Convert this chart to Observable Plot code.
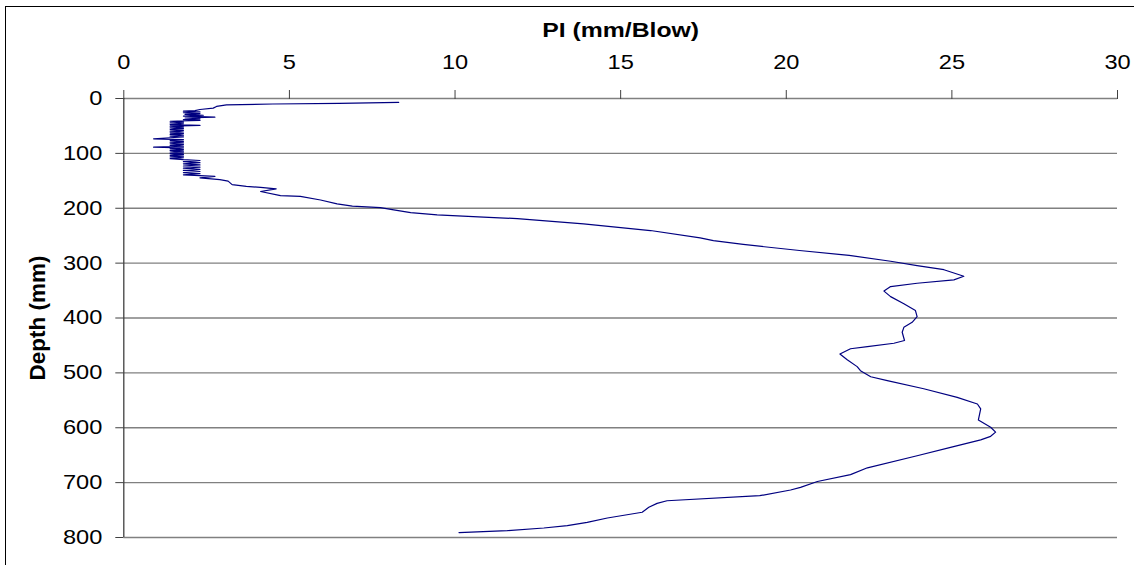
<!DOCTYPE html>
<html>
<head>
<meta charset="utf-8">
<script src="https://cdn.jsdelivr.net/npm/d3@7"></script>
<script src="https://cdn.jsdelivr.net/npm/@observablehq/plot@0.6"></script>
<style>
  html, body { margin: 0; padding: 0; background: #fff; overflow: hidden; }
  #wrap { position: relative; width: 1134px; height: 565px; }
  #border { position: absolute; left: 5px; top: 6px; width: 1400px; height: 800px;
            border-top: 1.5px solid #000; border-left: 1.5px solid #000; pointer-events: none; }
  #chart svg { display: block; }
</style>
</head>
<body>
<div id="wrap"><div id="chart"></div><div id="border"></div></div>
<script>
// Depth (mm) and penetration index PI (mm/blow)
const depth = [
  7, 9, 10, 11.5, 14.5, 17.5, 20, 22,
  23, 24.5, 26, 27.5, 29, 30.5, 32, 34, 35.5, 37, 38.5, 40, 41.5,
  43, 44.5, 46, 47.5, 49, 50.5, 52, 53.5, 55, 56.5, 58, 59.5, 61, 62.5, 64, 65.5, 67, 68.5, 70, 71.5, 73.5,
  75, 76.5, 78, 79.5, 81, 82.5, 84, 85.5, 87, 88.7, 90, 91.5, 93, 94.5, 96, 97.5, 99, 100.5, 102, 103.5, 105, 106.5, 108, 109.5,
  111.5, 113, 115, 117, 119, 121, 123, 125, 127, 129, 131, 133, 135, 137, 139, 140.5, 142, 144.5,
  148, 150.5, 157, 160, 162, 164.7, 169.5, 177, 178.5, 185, 192, 196, 199,
  203, 208, 212, 216, 219, 228.5, 240.6, 254, 259, 266, 277, 286, 296.6, 304.5, 312, 324, 330.5,
  336.7, 342.7, 351, 361, 374, 386.5, 397.5, 407.8, 417, 426, 441, 446, 452, 456, 465.5, 476, 488.6,
  496, 507, 514, 529, 544.6, 556.7, 565.7, 585.8, 599, 608, 615.6, 622, 635.7, 651, 673, 685.5, 698,
  708.6, 713.4, 723.8, 733, 737.8, 745, 754, 764.5, 772.4, 778.5, 782.7, 787.6, 791
];
const pi = [
  8.3, 6.5, 4.5, 3.1, 2.8, 2.7, 2.3, 2.15,
  1.8, 2.3, 1.8, 2.3, 1.85, 2.4, 1.8, 2.75, 1.85, 2.3, 1.8, 2.3, 1.4,
  1.8, 1.4, 1.8, 1.4, 2.3, 1.4, 1.8, 1.4, 1.8, 1.4, 1.8, 1.4, 1.8, 1.4, 1.8, 1.4, 1.8, 1.4, 1.8, 1.4, 0.9,
  1.8, 1.4, 1.8, 1.4, 1.8, 1.4, 1.8, 1.4, 1.8, 0.9, 1.8, 1.4, 1.8, 1.4, 1.8, 1.4, 1.8, 1.4, 1.8, 1.4, 1.8, 1.4, 1.8, 1.4,
  1.8, 2.3, 1.8, 2.3, 1.8, 2.3, 1.8, 2.3, 1.8, 2.3, 1.8, 2.3, 1.8, 2.3, 1.8, 2.3, 2.75, 2.3,
  2.9, 3.15, 3.27, 3.7, 4.13, 4.6, 4.13, 4.73, 5.33, 5.94, 6.44, 6.9, 7.75,
  8.15, 8.66, 9.46, 10.86, 11.88, 13.88, 15.9, 17.4, 17.8, 18.7, 20.4, 21.9, 23.15, 23.95, 24.76, 25.36, 25.06,
  23.95, 23.15, 22.95, 23.15, 23.55, 23.9, 23.95, 23.8, 23.55, 23.5, 23.57, 23.25, 22.45, 21.94, 21.62, 21.84, 22.14,
  22.24, 22.55, 23.05, 24.15, 25.16, 25.77, 25.87, 25.8, 26.17, 26.32, 26.17, 25.87, 24.96, 23.95, 22.45, 21.94, 20.94,
  20.43, 20.13, 19.2, 16.4, 16.1, 15.85, 15.65, 14.6, 13.99, 13.39, 12.68, 11.58, 10.12
];
const xTicks = [0, 5, 10, 15, 20, 25, 30];
const yTicks = [0, 100, 200, 300, 400, 500, 600, 700, 800];
const xTitle = "PI (mm/Blow)";
const yTitle = "Depth (mm)";

const table = depth.map((d, i) => ({depth: d, pi: pi[i]}));

const chart = Plot.plot({
  width: 1134,
  height: 565,
  marginLeft: 123.3,
  marginRight: 17,
  marginTop: 98,
  marginBottom: 28,
  style: {fontFamily: "'Liberation Sans', Arial, sans-serif", fontSize: "20px", background: "transparent", color: "#000"},
  x: {domain: [0, 30], axis: null},
  y: {domain: [0, 800], reverse: true, axis: null},
  marks: [
    Plot.gridY(yTicks, {stroke: "#808080", strokeOpacity: 1, strokeWidth: 1.4}),
    Plot.ruleX([0], {stroke: "#404040", strokeWidth: 1.3}),
    Plot.axisX(xTicks, {anchor: "top", tickSize: 9, tickPadding: 21, stroke: "#404040", fontSize: 20, label: null}),
    Plot.axisY(yTicks, {anchor: "left", tickSize: 8, tickPadding: 13.5, stroke: "#404040", fontSize: 20, label: null}),
    Plot.line(table, {x: "pi", y: "depth", stroke: "#000080", strokeWidth: 1.2}),
    Plot.text([xTitle], {frameAnchor: "top", dy: -68, fontWeight: "bold", fontSize: 21, lineAnchor: "middle", textAnchor: "middle"}),
    Plot.text([yTitle], {frameAnchor: "left", dx: -86, rotate: -90, fontWeight: "bold", fontSize: 22.5, lineAnchor: "middle", textAnchor: "middle"})
  ]
});
document.getElementById("chart").appendChild(chart);

// the reference's lettering is horizontally stretched; widen glyphs around their anchors
const S = 1.18;
chart.querySelectorAll("text").forEach(t => {
  const tr = t.getAttribute("transform") || "";
  if (/rotate/.test(tr)) return;
  const x = parseFloat(t.getAttribute("x")) || 0;
  t.setAttribute("transform", `${tr} translate(${x},0) scale(${S},1) translate(${-x},0)`);
});
</script>
</body>
</html>
